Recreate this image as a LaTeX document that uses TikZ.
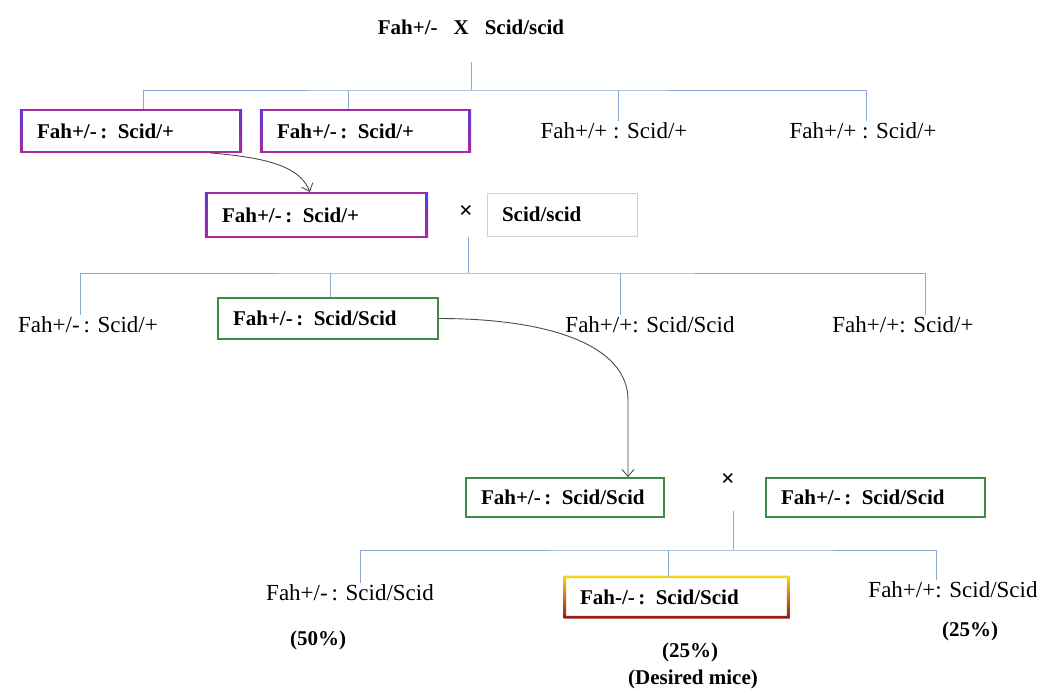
\documentclass[tikz,border=0pt]{standalone}
\usepackage{fontspec}
\setmainfont{Liberation Serif}
\usetikzlibrary{arrows.meta}
\definecolor{connc}{RGB}{140,170,205}
\definecolor{magc}{RGB}{170,40,160}
\definecolor{violc}{RGB}{90,60,210}
\definecolor{greenc}{RGB}{60,140,70}
\definecolor{yelc}{RGB}{250,215,30}
\definecolor{redc}{RGB}{150,20,20}
\tikzset{
  conn/.style={draw=connc, line width=1pt},
  arr/.style={draw=black!70, line width=0.9pt, -{Straight Barb[length=7pt,width=12pt]}},
  boxbase/.style={fill=white, inner xsep=15pt, inner ysep=2pt, align=left, font=\fontsize{21}{24}\selectfont\bfseries},
  magbox/.style={boxbase, draw=magc, line width=1.8pt},
  greenbox/.style={boxbase, draw=greenc, line width=1.8pt},
  graybox/.style={boxbase, draw=black!18, line width=1pt},
  redbox/.style={boxbase},
  plain/.style={inner sep=2pt, font=\fontsize{23}{26}\selectfont},
  pct/.style={inner sep=1pt, font=\fontsize{21}{24}\selectfont\bfseries},
  times/.style={inner sep=1pt, font=\fontsize{24}{26}\selectfont\bfseries},
  side/.style={top color=violc, middle color=yelc, bottom color=magc},
}
\begin{document}
\begin{tikzpicture}[x=1pt,y=-1pt]
\useasboundingbox[fill=white] (0,0) rectangle (1044,691);

% title
\node[inner sep=1pt, font=\fontsize{21}{24}\selectfont\bfseries] (title) at (471,27) {Fah+/-\hspace{16pt}X\hspace{16pt}Scid/scid};

% row 1
\node[magbox, text width=188pt, minimum height=42pt] (b1) at (131,131) {Fah+/-\,: Scid/+};
\node[magbox, text width=177pt, minimum height=42pt] (b2) at (365.5,131) {Fah+/-\,: Scid/+};
\node[plain] (t3) at (614,131) {Fah+/+ : Scid/+};
\node[plain] (t4) at (863,131) {Fah+/+ : Scid/+};

% row 2
\node[magbox, text width=189pt, minimum height=44pt] (b3) at (316.5,215) {Fah+/-\,: Scid/+};
\node[times] (x1) at (466,212) {×};
\node[graybox, text width=120pt, minimum height=43pt] (b4) at (562,214.5) {Scid/scid};

% row 3
\node[plain] (u1) at (88,325) {Fah+/-\,: Scid/+};
\node[greenbox, text width=190pt, minimum height=41pt] (b5) at (328,318.5) {Fah+/-\,: Scid/Scid};
\node[plain] (u3) at (650,325) {Fah+/+: Scid/Scid};
\node[plain] (u4) at (903,325) {Fah+/+: Scid/+};

% row 4
\node[greenbox, text width=168pt, minimum height=39pt] (b6) at (565,497.5) {Fah+/-\,: Scid/Scid};
\node[times] (x2) at (728,480) {×};
\node[greenbox, text width=189pt, minimum height=39pt] (b7) at (875.5,497.5) {Fah+/-\,: Scid/Scid};

% row 5
\node[plain] (v1) at (350,593) {Fah+/-\,: Scid/Scid};
\node[redbox, text width=193pt, minimum height=40pt] (b8) at (676.5,597) {Fah-/-\,: Scid/Scid};
\node[plain] (v3) at (953,590) {Fah+/+: Scid/Scid};
\node[pct] (p1) at (318,640) {(50\%)};
\node[pct] (p2) at (690,652) {(25\%)};
\node[pct] (p3) at (693,679) {(Desired mice)};
\node[pct] (p4) at (970,631) {(25\%)};

% rainbow sides of magenta boxes
\foreach \n in {b1,b2,b3}{
  \shade[side] ([xshift=-1.3]\n.north west) rectangle ([xshift=1.3]\n.south west);
  \shade[side] ([xshift=-1.3]\n.north east) rectangle ([xshift=1.3]\n.south east);
}
% yellow-red frame
\shade[top color=yelc, bottom color=redc, even odd rule]
  ([shift={(-1.3,-1.3)}]b8.north west) rectangle ([shift={(1.3,1.3)}]b8.south east)
  ([shift={(1.3,1.3)}]b8.north west) rectangle ([shift={(-1.3,-1.3)}]b8.south east);

% tree 1
\coordinate (t0) at (471,62);
\coordinate (j1) at (471,90);
\draw[conn] (t0) -- (j1);
\draw[conn] ([xshift=12]b1.north) |- (j1) -| ([xshift=3]t4.north);
\draw[conn] ([xshift=-17.5]b2.north) -- ([xshift=-17.5]b2.north |- j1);
\draw[conn] ([xshift=4]t3.north) -- ([xshift=4]t3.north |- j1);

% tree 2
\coordinate (s0) at (468,237);
\coordinate (j2) at (468,273);
\draw[conn] (s0) -- (j2);
\draw[conn] ([xshift=-8]u1.north) |- (j2) -| ([xshift=22]u4.north);
\draw[conn] ([xshift=2]b5.north) -- ([xshift=2]b5.north |- j2);
\draw[conn] ([xshift=-30]u3.north) -- ([xshift=-30]u3.north |- j2);

% tree 3
\coordinate (r0) at (733,511);
\coordinate (j3) at (733,550);
\draw[conn] (r0) -- (j3);
\draw[conn] ([xshift=10]v1.north) |- (j3) -| ([xshift=-17]v3.north);
\draw[conn] ([xshift=-8.5]b8.north) -- ([xshift=-8.5]b8.north |- j3);

% arrows
\draw[arr] ([xshift=79]b1.south) .. controls +(60,5) and +(-10,-25) .. ([xshift=-6.5]b3.north);
\coordinate (k) at (628,400);
\draw[arr] (b5.east) .. controls +(110,0) and +(0,-55) .. (k) -- ([xshift=63]b6.north);
\end{tikzpicture}
\end{document}
